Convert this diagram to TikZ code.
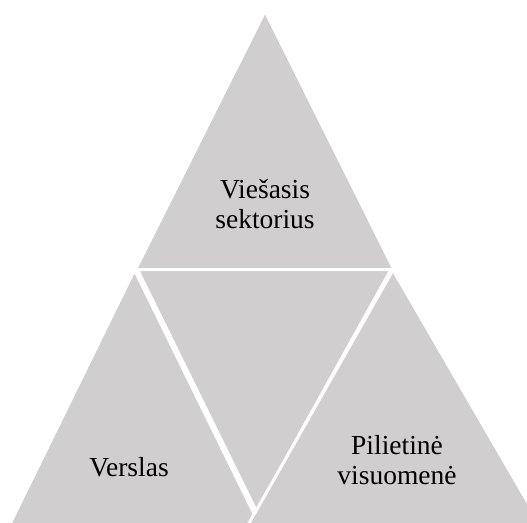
\documentclass[tikz,border=0pt]{standalone}
\usepackage{fontspec}
\setmainfont{Liberation Serif}
\definecolor{segfill}{HTML}{D0CECE}
\begin{document}
\begin{tikzpicture}[x=1pt,y=-1pt,
  seg/.style={fill=segfill,draw=white,line width=3pt,line join=miter},
  lbl/.style={align=center,anchor=base,inner sep=0pt,font=\fontsize{27.5}{30}\selectfont,text=black}]
\useasboundingbox (0,0) rectangle (527,522);
\begin{scope}
\clip (0,0) rectangle (527,522);
% top
\path[seg] (265,11) -- (135.5,269.5) -- (394,269.5) -- cycle;
% left bottom
\path[seg] (134.5,270) -- (6,532) -- (263,532) -- cycle;
% middle inverted
\path[seg] (137.5,269.5) -- (391,269.5) -- (256.5,511.5) -- cycle;
% right bottom
\path[seg] (393,270) -- (244,532) -- (545,532) -- cycle;
\end{scope}
\node[lbl] (pub) at (265,228) {Viešasis\\sektorius};
\node[lbl] (bus) at (129,476) {Verslas};
\node[lbl] (civ) at (397,484) {Pilietinė\\visuomenė};
\end{tikzpicture}
\end{document}
